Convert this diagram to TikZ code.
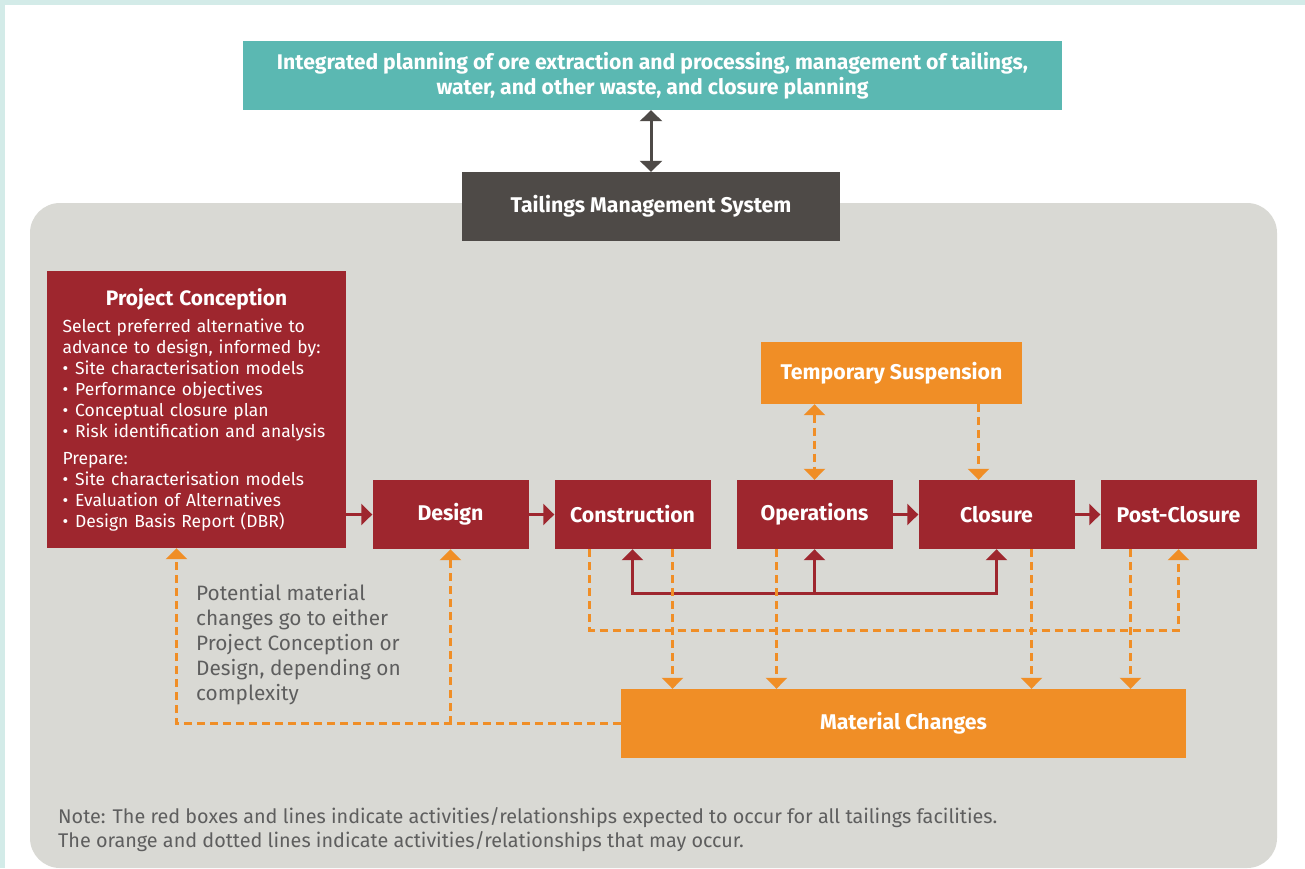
\documentclass[tikz,border=0pt]{standalone}
\usepackage{fontspec}
\setmainfont{Fira Sans}
\usetikzlibrary{arrows.meta}

\definecolor{tmsred}{HTML}{9E262E}
\definecolor{tmsorange}{HTML}{F08E26}
\definecolor{tmsteal}{HTML}{5BB8B2}
\definecolor{tmsdark}{HTML}{4E4A47}
\definecolor{tmsgrey}{HTML}{D9D9D4}
\definecolor{tmsframe}{HTML}{D3EBE8}
\definecolor{tmstext}{HTML}{5E5E5E}

\newcommand{\pcitem}{\textbullet\hspace{0.4em}}

\tikzstyle{box} = [rectangle,inner sep=0pt,text=white,align=center,font=\fontsize{21.3}{25}\selectfont\bfseries]
\tikzstyle{stage} = [box,fill=tmsred,minimum width=156pt,minimum height=69pt]
\tikzstyle{option} = [box,fill=tmsorange]
\tikzstyle{redarrow} = [draw=tmsred,line width=3pt,-{Triangle[width=21pt,length=11pt]}]
\tikzstyle{orangearrow} = [draw=tmsorange,line width=3pt,dash pattern=on 8pt off 5pt,-{Triangle[width=21pt,length=11pt]}]
\tikzstyle{darkarrow} = [draw=tmsdark,line width=3pt,{Triangle[width=22pt,length=11pt]}-{Triangle[width=22pt,length=11pt]}]
\tikzstyle{remark} = [align=left,inner sep=0pt,text=tmstext,anchor=north west]

\begin{document}
\begin{tikzpicture}[x=1pt,y=-1pt,node distance=182pt]
	\useasboundingbox (0,0) rectangle (1305,868);
	\fill[tmsframe] (0,0) rectangle (1305,868);
	\fill[white] (5,5) rectangle (1305,868);
	\fill[tmsgrey,rounded corners=30pt] (30,203) rectangle (1277,868);
	\node (integrated) [box,fill=tmsteal,minimum width=819pt,minimum height=69pt,font=\fontsize{21.2}{25}\selectfont\bfseries] at (652.5,75.5) {Integrated planning of ore extraction and processing, management of tailings,\\water, and other waste, and closure planning};
	\node (tms) [box,fill=tmsdark,minimum width=378pt,minimum height=69pt] at (651,206.5) {Tailings Management System};
	\node (conception) [box,fill=tmsred,minimum width=299pt,minimum height=277pt,text width=268pt,align=left,font=\fontsize{17.5}{21}\selectfont] at (196.5,409.5) {%
		\hyphenpenalty=10000\relax
		{\centering\fontsize{20.9}{28}\selectfont\bfseries Project Conception\par}\vspace{6pt}
		Select preferred alternative to\\
		advance to design, informed by:\\
		\pcitem Site characterisation models\\
		\pcitem Performance objectives\\
		\pcitem Conceptual closure plan\\
		\pcitem Risk identification and analysis\\[6pt]
		Prepare:\\
		\pcitem Site characterisation models\\
		\pcitem Evaluation of Alternatives\\
		\pcitem Design Basis Report (DBR)};
	\node (design) [stage] at (450.5,514.5) {Design};
	\node (construction) [stage,right of=design] {Construction};
	\node (operations) [stage,right of=construction] {Operations};
	\node (closure) [stage,right of=operations] {Closure};
	\node (postclosure) [stage,right of=closure] {Post-Closure};
	\node (suspension) [option,minimum width=261pt,minimum height=62pt] at (891.5,373) {Temporary Suspension};
	\node (matchg) [option,minimum width=565pt,minimum height=69pt] at (903.5,723.5) {Material Changes};
	\node (potential) [remark,font=\fontsize{20.8}{25}\selectfont] at (196,584) {Potential material\\changes go to either\\Project Conception or\\Design, depending on\\complexity};
	\node (note) [remark,font=\fontsize{19.8}{24}\selectfont] at (58,807) {Note: The red boxes and lines indicate activities/relationships expected to occur for all tailings facilities.\\The orange and dotted lines indicate activities/relationships that may occur.};
	\coordinate (hub) at ([yshift=-44pt]operations.south);
	\draw [darkarrow] (tms.north |- integrated.south) -- (tms.north);
	\draw [redarrow] (conception.east |- design) -- (design);
	\draw [redarrow] (design) -- (construction);
	\draw [redarrow] (operations) -- (closure);
	\draw [redarrow] (closure) -- (postclosure);
	\draw [redarrow] (hub) -- (operations.south);
	\draw [redarrow] (hub) -| (construction.south);
	\draw [redarrow] (hub) -| (closure.south);
	\draw [orangearrow,{Triangle[width=21pt,length=11pt]}-{Triangle[width=21pt,length=11pt]}] (operations.north |- suspension.south) -- (operations.north);
	\draw [orangearrow] ([xshift=-18pt]closure.north |- suspension.south) -- ([xshift=-18pt]closure.north);
	\draw [orangearrow] ([xshift=-43pt]construction.south) |- ([yshift=-81pt]postclosure.south) -- (postclosure.south);
	\foreach \n/\s in {construction/40,operations/-38,closure/35,postclosure/-48}
		\draw [orangearrow] ([xshift=\s pt]\n.south) -- ([xshift=\s pt]\n.south |- matchg.north);
	\draw [orangearrow] (matchg.west) -| ([xshift=-20pt]conception.south);
	\draw [orangearrow] (design.south |- matchg.west) -- (design.south);
\end{tikzpicture}
\end{document}
